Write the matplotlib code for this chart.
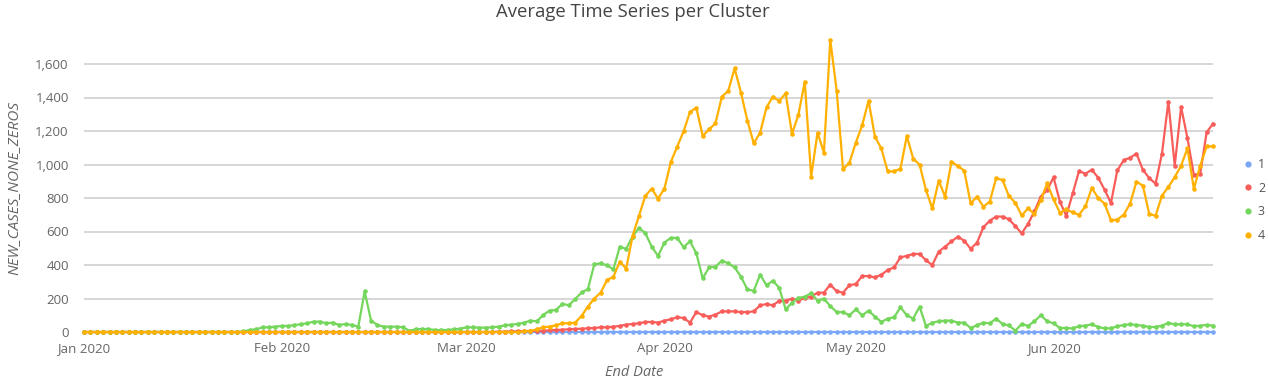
import numpy as np
import pandas as pd
import matplotlib
matplotlib.use("Agg")
import matplotlib.pyplot as plt
from matplotlib.lines import Line2D

plt.rcParams['font.family'] = ['Open Sans', 'DejaVu Sans']

# -------------------------------------------
# data (daily from 1 Jan 2020)

dates = pd.date_range('2020-01-01', periods=178, freq='D')

cluster_1 = [0] * 178

cluster_2 = ([0] * 65
             + [2, 2, 4, 4, 6, 6, 8, 8]
             + [10, 12, 14, 16, 18, 20, 22, 24]
             + [28, 28, 32, 36, 44, 48, 52, 60, 60, 56, 68, 76, 88, 84, 56, 119, 100, 92, 104, 123,
                123, 123, 119, 119, 123]
             + [159, 167, 159, 187, 187, 199, 187, 203, 211, 235, 235, 283, 243, 235, 279, 287, 334,
                334, 326, 342, 370, 386, 446, 454, 466]
             + [466, 428, 400, 480, 509, 541, 569, 545, 497, 533, 625, 665, 689, 689, 673, 633, 589,
                645, 720, 808, 848, 923, 778, 693]
             + [827, 961, 945, 969, 921, 850, 770, 965, 1025, 1041, 1065, 969, 919, 886, 1065, 1375,
                993, 1343, 1156, 939, 945, 1192, 1244])

cluster_3 = ([0] * 25
             + [4, 12, 16, 28, 28, 32, 36, 36, 42, 46, 52, 62, 62, 52, 56, 42, 48, 42, 32, 242, 68, 42,
                32, 32, 32, 28, 8, 16, 18, 18, 12]
             + [12, 12, 16, 20, 28, 28, 26, 26, 28, 32, 40, 44, 48, 56, 68, 64, 102, 128, 132, 168,
                160, 196, 236, 256, 404]
             + [410, 398, 374, 510, 496, 570, 622, 590, 510, 454, 534, 562, 562, 506, 542, 470, 320,
                386, 390, 426, 410, 386, 330, 254, 246]
             + [342, 279, 306, 263, 135, 175, 203, 211, 231, 187, 199, 155, 119, 119, 100, 135, 100,
                127, 92, 60, 80, 88, 147, 100, 80]
             + [151, 36, 56, 64, 68, 68, 56, 56, 24, 40, 56, 52, 80, 48, 40, 8, 48, 36, 64, 100, 64,
                52, 24, 24]
             + [21, 35, 38, 46, 30, 22, 22, 34, 42, 46, 42, 38, 30, 30, 38, 54, 46, 46, 46, 34, 38,
                42, 38])

cluster_4 = ([0] * 69
             + [4, 6, 16, 28, 32, 40, 52, 52, 56, 96, 152, 200]
             + [235, 310, 330, 420, 378, 573, 692, 812, 856, 796, 856, 1015, 1106, 1198, 1313, 1339,
                1170, 1210, 1246, 1405, 1439, 1574, 1429, 1262, 1126]
             + [1190, 1341, 1405, 1379, 1425, 1182, 1297, 1494, 927, 1190, 1071, 1743, 1441, 971,
                1011, 1130, 1234, 1381, 1166, 1096, 959, 959, 975, 1170, 1035, 999, 848, 738, 903]
             + [808, 1017, 991, 963, 768, 808, 748, 778, 919, 907, 812, 772, 696, 738, 704, 788, 887,
                792, 712, 732]
             + [714, 700, 750, 860, 800, 766, 667, 671, 700, 766, 897, 874, 706, 694, 814, 866, 925,
                993, 1097, 854, 993, 1108, 1108])

series_names = ['1', '2', '3', '4']
series_values = [cluster_1, cluster_2, cluster_3, cluster_4]
series_colors = ['#7aa8f6', '#f85d5a', '#74d65b', '#ffb000']

month_ticks = pd.date_range('2020-01-01', '2020-06-01', freq='MS')
month_labels = [d.strftime('%b %Y') for d in month_ticks]
y_ticks = [0, 200, 400, 600, 800, 1000, 1200, 1400, 1600]

# -------------------------------------------

W, H = 1268, 383
fig = plt.figure(figsize=(W / 100, H / 100), dpi=100)
left, right, top_px, bottom_px = 84, 1213, 30.5, 332
ax = fig.add_axes([left / W, 1 - bottom_px / H, (right - left) / W, (bottom_px - top_px) / H])

# later series drawn on top, like the reference
for name, values, color in zip(series_names, series_values, series_colors):
    ax.plot(dates, values, color=color, lw=1.6, marker='o', markersize=3.3,
            markeredgewidth=0, clip_on=False, zorder=3)

ax.set_xlim(dates[0], dates[-1])
ax.set_ylim(0, 1800)
ax.set_yticks(y_ticks)
ax.set_yticklabels([f'{v:,}' for v in y_ticks])
ax.set_xticks(month_ticks)
ax.set_xticklabels(month_labels)

ax.grid(axis='y', color='#cfcfcf', lw=1.2, zorder=0)
ax.set_axisbelow(True)
for s in ax.spines.values():
    s.set_visible(False)
ax.tick_params(axis='both', length=0, labelsize=9.5, labelcolor='#666666')
ax.tick_params(axis='y', pad=11)
ax.tick_params(axis='x', pad=7)

fig.text(633 / W, 1 - 12 / H, 'Average Time Series per Cluster', ha='center', va='center',
         fontsize=13.3, color='#444444')
fig.text(14 / W, 1 - 188 / H, 'NEW_CASES_NONE_ZEROS', ha='center', va='center', rotation=90,
         fontsize=11, style='italic', color='#666666')
fig.text(634 / W, 1 - 373 / H, 'End Date', ha='center', va='center', fontsize=10.5,
         style='italic', color='#666666')

handles = [Line2D([], [], color=c, marker='o', lw=0, markersize=4.5, markeredgewidth=0)
           for c in series_colors]
fig.legend(handles, series_names, loc='upper left', bbox_to_anchor=(1238 / W, 1 - 153 / H),
           frameon=False, fontsize=9, labelcolor='#555555', handlelength=0.8,
           handletextpad=0.4, labelspacing=0.85, borderaxespad=0)

fig.savefig('out.png', dpi=100)
